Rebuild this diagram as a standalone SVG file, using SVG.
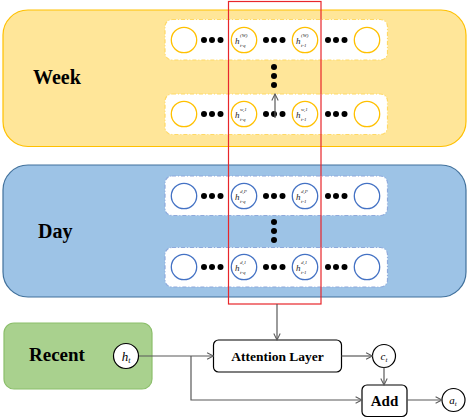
<svg xmlns="http://www.w3.org/2000/svg" width="468" height="418" viewBox="0 0 468 418">
<defs>
<style>
.lbl{font-family:"Liberation Serif","Times New Roman",serif;font-weight:bold;fill:#000}
.math{font-family:"Liberation Serif","Times New Roman",serif;font-style:italic;fill:#000}
.hh{font-family:"Liberation Serif",serif;font-style:italic;font-size:9px;fill:#222}
.sc{font-family:"Liberation Serif",serif;font-style:italic;font-size:5px;fill:#222}
.wc{fill:#fff;stroke:#FFC000;stroke-width:1.3}
.dc{fill:#fff;stroke:#4472C4;stroke-width:1.3}
.wrow{fill:#fff;stroke:#FFD966;stroke-width:1.2;stroke-dasharray:4 2 1 2}
.drow{fill:#fff;stroke:#8FAADC;stroke-width:1.2;stroke-dasharray:4 2 1 2}
.dot{fill:#000}
.conn{fill:none;stroke:#595959;stroke-width:1.2}
.node{fill:#fff;stroke:#000;stroke-width:1.2}
</style>
<marker id="arr" viewBox="0 0 10 10" refX="9" refY="5" markerWidth="8" markerHeight="8" markerUnits="userSpaceOnUse" orient="auto">
<path d="M1,1 L9,5 L1,9" fill="none" stroke="#595959" stroke-width="1.3"/>
</marker>
<g id="dots3"><circle cx="0" cy="0" r="3"/><circle cx="8" cy="0" r="3"/><circle cx="16.5" cy="0" r="3"/></g>
</defs>

<g id="week">
<rect x="3" y="10" width="463" height="136.5" rx="25" fill="#FFE699" stroke="#FFC000" stroke-width="1.2"/>
<text class="lbl" x="33" y="84" font-size="20">Week</text>
<rect class="wrow" x="165" y="19.5" width="222.5" height="40.5" rx="7"/>
<rect class="wrow" x="165" y="94" width="222.5" height="40.5" rx="7"/>
<g class="dot">
<use href="#dots3" x="204" y="40"/><use href="#dots3" x="266" y="40"/><use href="#dots3" x="328" y="40"/>
<use href="#dots3" x="204" y="114"/><use href="#dots3" x="266" y="114"/><use href="#dots3" x="328" y="114"/>
<circle cx="274" cy="67" r="3"/><circle cx="274" cy="76" r="3"/><circle cx="274" cy="85" r="3"/>
</g>
<circle class="wc" cx="184" cy="40" r="12.7"/>
<circle class="wc" cx="244" cy="40" r="12.7"/>
<circle class="wc" cx="305" cy="40" r="12.7"/>
<circle class="wc" cx="367" cy="40" r="12.7"/>
<circle class="wc" cx="184" cy="114" r="12.7"/>
<circle class="wc" cx="244" cy="114" r="12.7"/>
<circle class="wc" cx="305" cy="114" r="12.7"/>
<circle class="wc" cx="367" cy="114" r="12.7"/>
<text class="hh" x="235" y="44">h</text><text class="sc" x="240" y="37">(W)</text><text class="sc" x="240" y="47">t-q</text>
<text class="hh" x="296" y="44">h</text><text class="sc" x="301" y="37">(W)</text><text class="sc" x="301" y="47">t-1</text>
<text class="hh" x="235" y="118">h</text><text class="sc" x="240" y="111">w,1</text><text class="sc" x="240" y="121">t-q</text>
<text class="hh" x="296" y="118">h</text><text class="sc" x="301" y="111">w,1</text><text class="sc" x="301" y="121">t-1</text>
</g>

<g id="day">
<rect x="3" y="165" width="463" height="132" rx="25" fill="#9DC3E6" stroke="#41719C" stroke-width="1.2"/>
<text class="lbl" x="38" y="238" font-size="20">Day</text>
<rect class="drow" x="165" y="176" width="222.5" height="39.5" rx="7"/>
<rect class="drow" x="165" y="247.5" width="222.5" height="39.5" rx="7"/>
<g class="dot">
<use href="#dots3" x="204" y="196"/><use href="#dots3" x="266" y="196"/><use href="#dots3" x="328" y="196"/>
<use href="#dots3" x="204" y="267"/><use href="#dots3" x="266" y="267"/><use href="#dots3" x="328" y="267"/>
<circle cx="274" cy="222" r="3"/><circle cx="274" cy="231" r="3"/><circle cx="274" cy="240" r="3"/>
</g>
<circle class="dc" cx="184" cy="196" r="12.7"/>
<circle class="dc" cx="244" cy="196" r="12.7"/>
<circle class="dc" cx="305" cy="196" r="12.7"/>
<circle class="dc" cx="367" cy="196" r="12.7"/>
<circle class="dc" cx="184" cy="267" r="12.7"/>
<circle class="dc" cx="244" cy="267" r="12.7"/>
<circle class="dc" cx="305" cy="267" r="12.7"/>
<circle class="dc" cx="367" cy="267" r="12.7"/>
<text class="hh" x="235" y="200">h</text><text class="sc" x="240" y="193">d,P</text><text class="sc" x="240" y="203">t-q</text>
<text class="hh" x="296" y="200">h</text><text class="sc" x="301" y="193">d,P</text><text class="sc" x="301" y="203">t-1</text>
<text class="hh" x="235" y="271">h</text><text class="sc" x="240" y="264">d,1</text><text class="sc" x="240" y="274">t-q</text>
<text class="hh" x="296" y="271">h</text><text class="sc" x="301" y="264">d,1</text><text class="sc" x="301" y="274">t-1</text>
</g>

<g id="window">
<rect x="228.5" y="1.5" width="92.5" height="302.5" fill="none" stroke="#E8262B" stroke-width="1.2"/>
</g>

<g id="recent">
<rect x="4" y="323" width="148" height="66" rx="10" fill="#A9D18E" stroke="#8CBF6B" stroke-width="1.2"/>
<text class="lbl" x="29" y="361" font-size="19">Recent</text>
<circle class="node" cx="126" cy="356" r="12.5"/>
<text class="math" x="126" y="360.5" font-size="13" text-anchor="middle">h<tspan font-size="8" dy="2">t</tspan></text>
</g>

<g id="attention">
<rect class="node" x="213.5" y="340" width="128" height="32" rx="5"/>
<text class="lbl" x="277.5" y="361" font-size="13.5" text-anchor="middle">Attention Layer</text>
</g>

<g id="ct">
<circle class="node" cx="384" cy="356" r="11.5"/>
<text class="math" x="384" y="359.5" font-size="11" text-anchor="middle">c<tspan font-size="7" dy="2">t</tspan></text>
</g>

<g id="add">
<rect class="node" x="362" y="385" width="45" height="31.5" rx="5"/>
<text class="lbl" x="384.5" y="406" font-size="15" text-anchor="middle">Add</text>
</g>

<g id="at">
<circle class="node" cx="453.5" cy="400" r="11.5"/>
<text class="math" x="453" y="403.5" font-size="11" text-anchor="middle">a<tspan font-size="7" dy="2">t</tspan></text>
</g>

<g id="connectors">
<path class="conn" d="M275,118 L275,94" marker-end="url(#arr)"/>
<path class="conn" d="M277,304 L277,340" marker-end="url(#arr)"/>
<path class="conn" d="M139,356 L213.5,356" marker-end="url(#arr)"/>
<path class="conn" d="M191,356 L191,400 L362,400" marker-end="url(#arr)"/>
<path class="conn" d="M341.5,356 L372.5,356" marker-end="url(#arr)"/>
<path class="conn" d="M384,367.5 L384,385" marker-end="url(#arr)"/>
<path class="conn" d="M407,400 L442,400" marker-end="url(#arr)"/>
</g>
</svg>
